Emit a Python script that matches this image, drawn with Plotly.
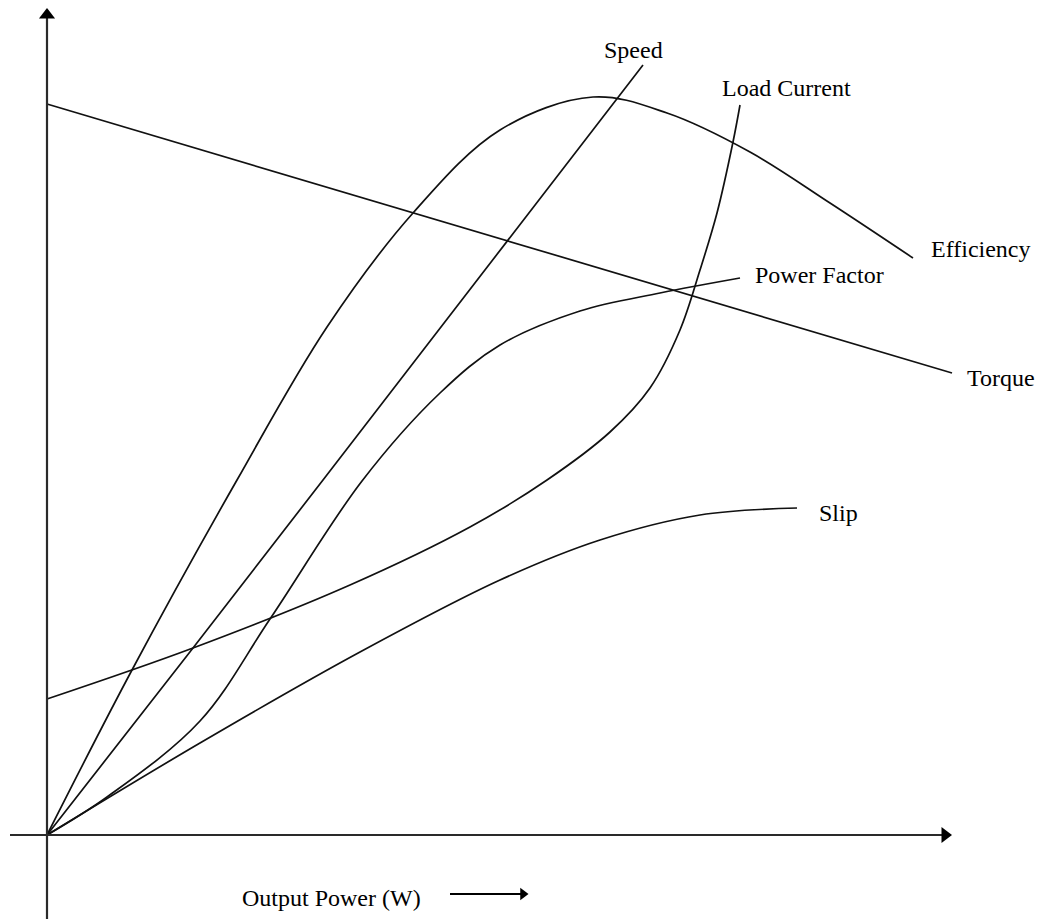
import plotly.graph_objects as go

# ---- data (x = output power, y = quantity, arbitrary units) ----
eff_x = [0, 85, 190, 280, 366, 453, 546, 620, 703, 783, 866]
eff_y = [0, 165, 355, 508, 622, 705, 738, 722, 683, 632, 577]

speed_x = [0, 146, 276, 460, 596]
speed_y = [0, 187, 355, 593, 770]

torque_x = [0, 905]
torque_y = [731, 462]

current_x = [0, 146, 303, 423, 500, 563, 603, 633, 653, 670, 686, 693]
current_y = [136, 187, 250, 308, 355, 403, 447, 505, 565, 622, 693, 730]

pf_x = [0, 60, 153, 223, 315, 393, 453, 533, 613, 693]
pf_y = [0, 38, 114, 216, 354, 442, 490, 524, 542, 557]

slip_x = [0, 153, 313, 453, 553, 653, 750]
slip_y = [0, 92, 183, 255, 295, 320, 327]

curve_names = ["Efficiency", "Speed", "Torque", "Load Current", "Power Factor", "Slip"]
label_x = [934, 586, 954, 739, 772, 791]
label_y = [586, 785, 457, 747, 560, 322]
x_title = "Output Power (W)"

# axis extents
x_min, x_max = -37, 905
y_min, y_max = -84, 827

LINE = "#111111"
AXIS = "#2a2a2a"
FONT = "Liberation Serif"

fig = go.Figure()

curves = [(eff_x, eff_y, "spline"), (speed_x, speed_y, "linear"), (torque_x, torque_y, "linear"),
          (current_x, current_y, "spline"), (pf_x, pf_y, "spline"), (slip_x, slip_y, "spline")]
for xs, ys, shp in curves:
    fig.add_trace(go.Scatter(x=xs, y=ys, mode="lines",
                             line=dict(color=LINE, width=1.7, shape=shp, smoothing=1.0),
                             hoverinfo="skip"))

# axes with arrow heads
fig.add_trace(go.Scatter(x=[x_min, x_max - 7], y=[0, 0], mode="lines",
                         line=dict(color=AXIS, width=2.2), hoverinfo="skip"))
fig.add_trace(go.Scatter(x=[0, 0], y=[y_min, y_max - 7], mode="lines",
                         line=dict(color=AXIS, width=2.2), hoverinfo="skip"))
fig.add_trace(go.Scatter(x=[x_max - 7], y=[0], mode="markers", cliponaxis=False,
                         marker=dict(symbol="triangle-right", size=14, color="#000"),
                         hoverinfo="skip"))
fig.add_trace(go.Scatter(x=[0], y=[y_max - 7], mode="markers", cliponaxis=False,
                         marker=dict(symbol="triangle-up", size=14, color="#000"),
                         hoverinfo="skip"))

# arrow next to the x title
arr_x0, arr_x1, arr_y = 403, 481, -59
fig.add_trace(go.Scatter(x=[arr_x0, arr_x1 - 5], y=[arr_y, arr_y], mode="lines",
                         line=dict(color="#000", width=2), hoverinfo="skip"))
fig.add_trace(go.Scatter(x=[arr_x1 - 5], y=[arr_y], mode="markers", cliponaxis=False,
                         marker=dict(symbol="triangle-right", size=11, color="#000"),
                         hoverinfo="skip"))

for name, lx, ly in zip(curve_names, label_x, label_y):
    fig.add_annotation(x=lx, y=ly, text=name, showarrow=False, xanchor="center",
                       yanchor="middle", font=dict(family=FONT, size=24, color="#000"))

fig.add_annotation(x=284, y=-63, text=x_title, showarrow=False, xanchor="center",
                   yanchor="middle", font=dict(family=FONT, size=24, color="#000"))

# the page body has an 8px margin, so the ranges are shifted to compensate
fig.update_layout(
    width=1046, height=919,
    margin=dict(l=0, r=0, t=0, b=0),
    paper_bgcolor="white", plot_bgcolor="white",
    showlegend=False,
    xaxis=dict(range=[-39, 1007], visible=False, fixedrange=True),
    yaxis=dict(range=[-92, 827], visible=False, fixedrange=True),
)

fig.write_html("out.html")
